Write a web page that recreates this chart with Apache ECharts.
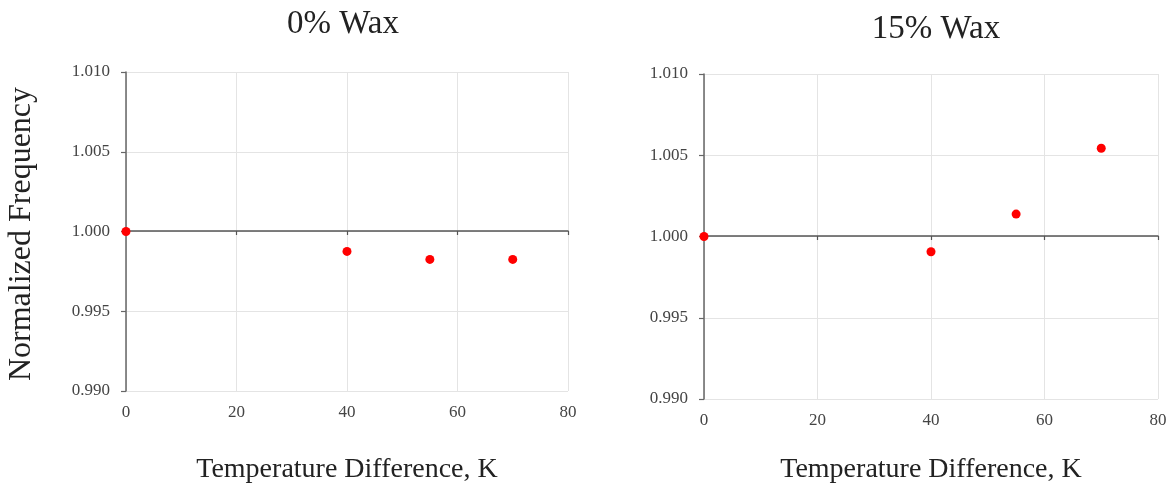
<!DOCTYPE html>
<html>
<head>
<meta charset="utf-8">
<script src="https://cdn.jsdelivr.net/npm/echarts@6/dist/echarts.min.js"></script>
<style>
  html, body { margin: 0; padding: 0; background: #fff; }
  #chart { width: 1172px; height: 489px; }
</style>
</head>
<body>
<div id="chart"></div>
<script>
// Temperature difference (K) for each measurement
const tempDiff = [0, 40, 55, 70];
// Normalized frequency, 0% wax sample
const freqWax0 = [1.0, 0.99875, 0.99825, 0.99825];
// Normalized frequency, 15% wax sample
const freqWax15 = [1.0, 0.99906, 1.00138, 1.00543];
// Panel titles
const panelTitles = ['0% Wax', '15% Wax'];
// Axis ranges
const xMin = 0, xMax = 80, xStep = 20;
const yMin = 0.990, yMax = 1.010, yStep = 0.005;
const yRef = 1.0;

const serif = '"Liberation Serif", "DejaVu Serif", serif';

// Plot areas in pixels
const grids = [
  { left: 126, top: 72, width: 442, height: 320 },
  { left: 704, top: 74, width: 454, height: 326 }
];

function pairs(ys) { return tempDiff.map((x, i) => [x, ys[i]]); }

const xAxes = [];
const yAxes = [];
grids.forEach((g, i) => {
  // bottom axis carrying the tick labels and grid lines
  xAxes.push({
    type: 'value', gridIndex: i, min: xMin, max: xMax, interval: xStep,
    axisLine: { show: false }, axisTick: { show: false },
    axisLabel: { fontFamily: serif, fontSize: 17, color: '#444', margin: 13 },
    splitLine: { show: true, lineStyle: { color: '#e4e4e4', width: 1 } },
    name: 'Temperature Difference, K', nameLocation: 'middle',
    nameGap: i === 0 ? 65 : 57,
    nameTextStyle: { fontFamily: serif, fontSize: 28, color: '#222' }
  });
  yAxes.push({
    type: 'value', gridIndex: i, min: yMin, max: yMax, interval: yStep,
    axisLine: { show: true, lineStyle: { color: '#666', width: 1.5 } },
    axisTick: { show: true, length: 5, lineStyle: { color: '#666', width: 1.2 } },
    axisLabel: { fontFamily: serif, fontSize: 17, color: '#444', margin: 16,
                 formatter: v => v.toFixed(3) },
    splitLine: { show: true, lineStyle: { color: '#e4e4e4', width: 1 } }
  });
});
// reference line at 1.000 drawn as a second x axis lifted into the plot
grids.forEach((g, i) => {
  xAxes.push({
    type: 'value', gridIndex: i, min: xMin, max: xMax, interval: xStep,
    position: 'bottom',
    offset: -g.height * (yRef - yMin) / (yMax - yMin),
    axisLine: { show: true, lineStyle: { color: '#555', width: 1.5 } },
    axisTick: { show: true, length: 4, lineStyle: { color: '#555', width: 1.2 } },
    axisLabel: { show: false }, splitLine: { show: false }
  });
});

const option = {
  animation: false,
  backgroundColor: '#fff',
  title: panelTitles.map((t, i) => ({
    text: t,
    left: i === 0 ? 338 : 931,
    top: i === 0 ? 3 : 8,
    textAlign: 'center',
    textStyle: { fontFamily: serif, fontSize: 33, fontWeight: 'normal', color: '#222' }
  })),
  grid: grids,
  xAxis: xAxes,
  yAxis: yAxes,
  graphic: [{
    type: 'text', x: 22, y: 234, rotation: Math.PI / 2,
    style: { text: 'Normalized Frequency', fontFamily: serif, fontSize: 32, fill: '#222',
             textAlign: 'center', textVerticalAlign: 'middle' }
  }],
  series: [
    { type: 'scatter', xAxisIndex: 0, yAxisIndex: 0, data: pairs(freqWax0),
      symbolSize: 9, itemStyle: { color: '#ff0000', opacity: 1 } },
    { type: 'scatter', xAxisIndex: 1, yAxisIndex: 1, data: pairs(freqWax15),
      symbolSize: 9, itemStyle: { color: '#ff0000', opacity: 1 } }
  ]
};

const chart = echarts.init(document.getElementById('chart'), null, { renderer: 'canvas' });
chart.setOption(option);
</script>
</body>
</html>
